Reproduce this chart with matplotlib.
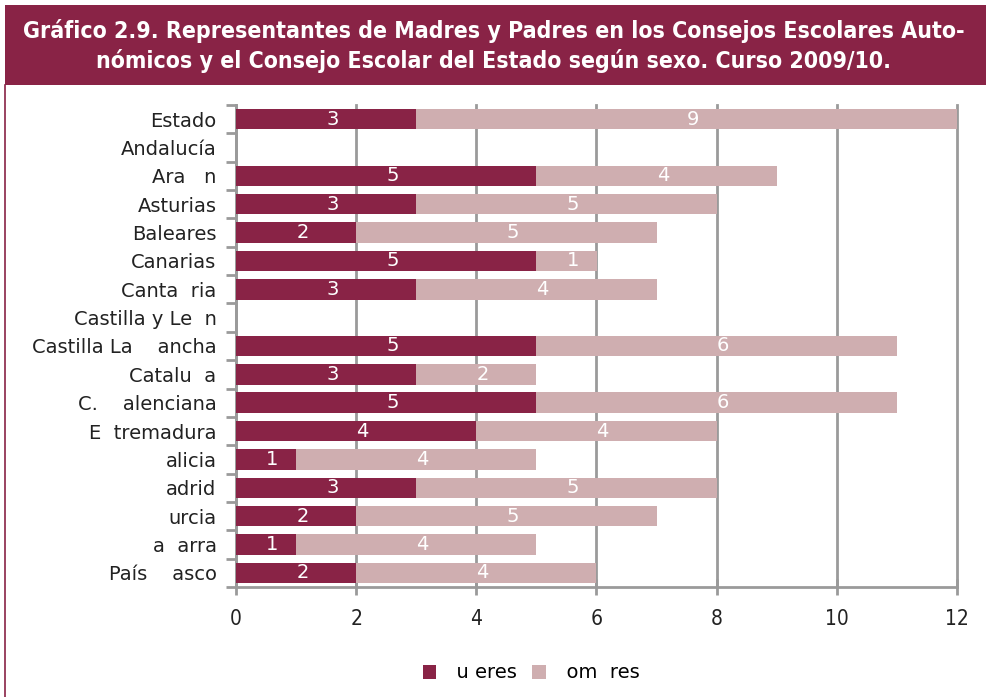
import numpy as np
import matplotlib
matplotlib.use('Agg')
import matplotlib.pyplot as plt
from matplotlib.patches import Rectangle
from matplotlib.lines import Line2D

# data as drawn in the reference (labels keep the gaps of the original rendering)
regiones = ['Estado', 'Andalucía', 'Ara   n', 'Asturias', 'Baleares', 'Canarias',
            'Canta  ria', 'Castilla y Le  n', 'Castilla La    ancha', 'Catalu  a',
            'C.    alenciana', 'E  tremadura', 'alicia', 'adrid', 'urcia',
            'a  arra', 'País    asco']
mujeres = [3, 0, 5, 3, 2, 5, 3, 0, 5, 3, 5, 4, 1, 3, 2, 1, 2]
hombres = [9, 0, 4, 5, 5, 1, 4, 0, 6, 2, 6, 4, 4, 5, 5, 4, 4]
leyenda = ['  u eres', '  om  res']
titulo = ('Gráfico 2.9. Representantes de Madres y Padres en los Consejos Escolares Auto-\n'
          'nómicos y el Consejo Escolar del Estado según sexo. Curso 2009/10.')

c_muj = '#892346'
c_hom = '#CFAEB0'
gris = '#9a9a9a'

fig = plt.figure(figsize=(9.87, 6.97), dpi=100)

# title band and left frame line
fig.patches.append(Rectangle((5/987, 1-85/697), 1, 80/697, transform=fig.transFigure,
                             facecolor=c_muj, edgecolor='none'))
fig.lines.append(Line2D([5.5/987, 5.5/987], [0, 1-85/697], transform=fig.transFigure,
                        color=c_muj, lw=1.2))
fig.text(0.5, 1-46/697, titulo, ha='center', va='center', color='white',
         fontsize=16.6, fontweight='bold', linespacing=1.3,
         family='DejaVu Sans', fontstretch='condensed')

ax = fig.add_axes([236/987, 1-587/697, (957-236)/987, (587-105)/697])
y = np.arange(len(regiones))
b1 = ax.barh(y, mujeres, height=0.72, color=c_muj, zorder=3)
b2 = ax.barh(y, hombres, left=mujeres, height=0.72, color=c_hom, zorder=3)

for i in range(len(regiones)):
    if mujeres[i] > 0:
        ax.annotate(str(mujeres[i]), (mujeres[i]/2, y[i]), xytext=(4.5, 0),
                    textcoords='offset points', ha='center', va='center',
                    color='white', fontsize=14, zorder=4)
    if hombres[i] > 0:
        ax.annotate(str(hombres[i]), (mujeres[i] + hombres[i]/2, y[i]), xytext=(4.5, 0),
                    textcoords='offset points', ha='center', va='center',
                    color='white', fontsize=14, zorder=4)

ax.set_xlim(0, 12)
ax.set_ylim(len(regiones)-0.5, -0.5)
ax.set_xticks(np.arange(0, 13, 2))
ax.set_yticks(y)
ax.set_yticklabels(regiones, fontsize=14, color='#222222')
ax.set_yticks(np.arange(-0.5, len(regiones), 1), minor=True)
ax.tick_params(axis='y', which='major', length=0, pad=14)
ax.tick_params(axis='y', which='minor', length=7, width=2, color=gris, direction='out')
ax.tick_params(axis='x', length=12, width=2, color=gris, direction='inout',
               labelsize=15, labelcolor='#222222', pad=10)
for t in ax.get_xticklabels():
    t.set_fontstretch('condensed')
ax.grid(True, axis='x', color=gris, lw=2, zorder=0)
for gl in ax.get_xgridlines():
    gl.set_clip_on(False)
for s in ['top', 'right']:
    ax.spines[s].set_visible(False)
for s in ['left', 'bottom']:
    ax.spines[s].set_color(gris)
    ax.spines[s].set_linewidth(2)

fig.legend([b1, b2], leyenda, loc='center', bbox_to_anchor=(0.538, 1-673/697),
           ncol=2, frameon=False, fontsize=14, handlelength=0.7, handleheight=0.7,
           columnspacing=0.8, handletextpad=0.4)

fig.savefig('out.png', dpi=100)
